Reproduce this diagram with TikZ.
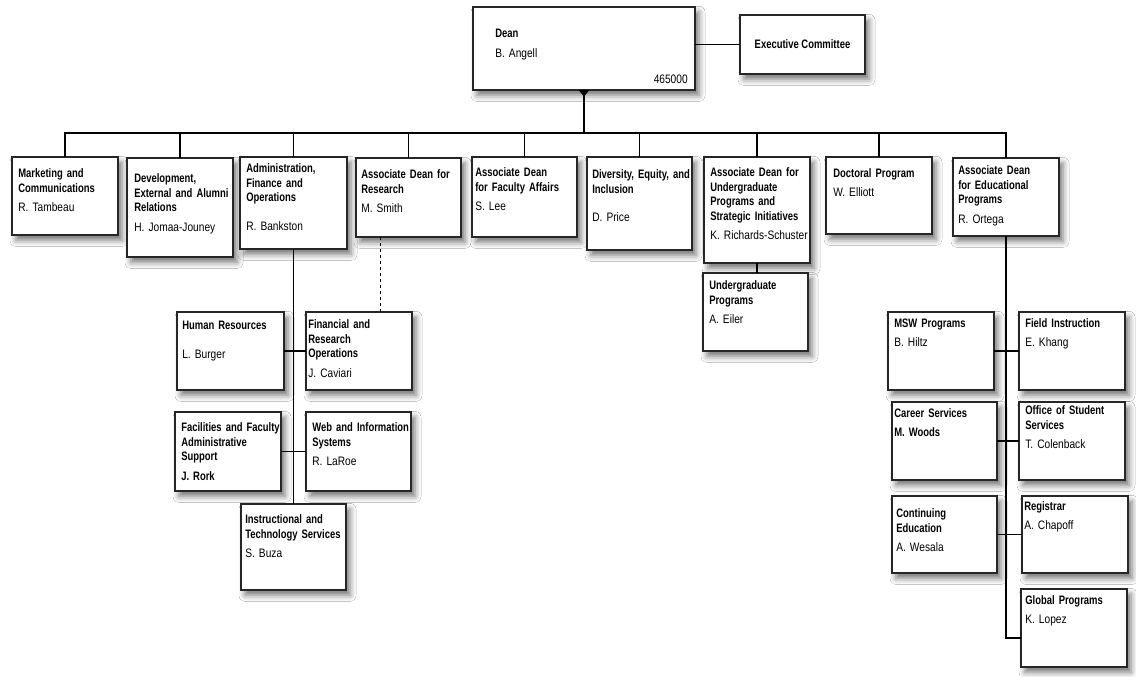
\documentclass[tikz,border=0pt]{standalone}
\usepackage{fontspec}
\setmainfont{Liberation Sans}[FakeStretch=0.83, BoldFeatures={FakeStretch=0.77}]
\usetikzlibrary{fit,shadows.blur}

\tikzset{
  unit/.style={draw=black!85, line width=0.8pt, fill=white, inner sep=0pt, outer sep=0pt,
    blur shadow={shadow xshift=3pt, shadow yshift=-4pt, shadow blur radius=4.5pt, shadow opacity=55}},
  unittext/.style={anchor=north west, align=left, inner sep=0pt, text width=84pt,
    font=\fontsize{9.2}{11}\selectfont\bfseries, execute at begin node=\rule{0pt}{7pt}},
  numtext/.style={anchor=east, inner sep=0pt, font=\fontsize{9.2}{11}\selectfont},
  link/.style={line width=1pt},
  dotlink/.style={line width=0.8pt, dash pattern=on 2.5pt off 2pt}
}

\begin{document}
\begin{tikzpicture}[x=0.75pt, y=-0.75pt]
\useasboundingbox[fill=white] (0,0) rectangle (1136,676);

% top level
\node[unit, fit={(473,7) (695,90)}] (dean) {};
\node[unittext] (dean-t) at (495,28) {Dean\\[4pt]\mdseries B. Angell};
\node[numtext] (dean-n) at (688,79) {465000};
\node[unit, fit={(740,15) (865,74)}] (exec) {};
\node[font=\fontsize{9.2}{11}\selectfont\bfseries, inner sep=0pt] (exec-t) at (exec.center) {Executive Committee};

% first row
\node[unit, fit={(12,157) (118,235)}] (mkt) {};
\node[unittext] (mkt-t) at (18,168) {Marketing and\\Communications\\[3.5pt]\mdseries R. Tambeau};
\node[unit, fit={(127,158) (233,257)}] (dev) {};
\node[unittext] (dev-t) at (134,173) {Development,\\External and Alumni\\Relations\\[3.5pt]\mdseries H. Jomaa-Jouney};
\node[unit, fit={(240,157) (347,249)}] (adm) {};
\node[unittext] (adm-t) at (246,163) {Administration,\\Finance and\\Operations\\[10.5pt]\mdseries R. Bankston};
\node[unit, fit={(356,158) (461,237)}] (res) {};
\node[unittext] (res-t) at (361,169) {Associate Dean for\\Research\\[3.5pt]\mdseries M. Smith};
\node[unit, fit={(472,157) (577,237)}] (fac) {};
\node[unittext] (fac-t) at (475,167) {Associate Dean\\for Faculty Affairs\\[3.5pt]\mdseries S. Lee};
\node[unit, fit={(587,157) (692,250)}] (div) {};
\node[unittext] (div-t) at (592,169) {Diversity, Equity, and\\Inclusion\\[10.5pt]\mdseries D. Price};
\node[unit, fit={(704,157) (810,263)}] (ugr) {};
\node[unittext] (ugr-t) at (710,167) {Associate Dean for\\Undergraduate\\Programs and\\Strategic Initiatives\\[3.5pt]\mdseries K. Richards-Schuster};
\node[unit, fit={(826,157) (932,234)}] (doc) {};
\node[unittext] (doc-t) at (833,168) {Doctoral Program\\[3.5pt]\mdseries W. Elliott};
\node[unit, fit={(953,158) (1059,236)}] (edu) {};
\node[unittext] (edu-t) at (958,165) {Associate Dean\\for Educational\\Programs\\[3.5pt]\mdseries R. Ortega};

% administration
\node[unit, fit={(177,312) (284,390)}] (hr) {};
\node[unittext] (hr-t) at (182,320) {Human Resources\\[10.5pt]\mdseries L. Burger};
\node[unit, fit={(306,312) (412,390)}] (fin) {};
\node[unittext] (fin-t) at (308,319) {Financial and\\Research\\Operations\\[3.5pt]\mdseries J. Caviari};
\node[unit, fit={(175,412) (281,491)}] (fcl) {};
\node[unittext] (fcl-t) at (181,422) {Facilities and Faculty\\Administrative\\Support\\[3.5pt]J. Rork};
\node[unit, fit={(306,412) (411,491)}] (web) {};
\node[unittext] (web-t) at (312,422) {Web and Information\\Systems\\[3.5pt]\mdseries R. LaRoe};
\node[unit, fit={(241,504) (346,590)}] (its) {};
\node[unittext] (its-t) at (245,514) {Instructional and\\Technology Services\\[3.5pt]\mdseries S. Buza};

% undergraduate
\node[unit, fit={(703,273) (808,351)}] (ugp) {};
\node[unittext] (ugp-t) at (709,280) {Undergraduate\\Programs\\[3.5pt]\mdseries A. Eiler};

% educational programs
\node[unit, fit={(888,312) (994,390)}] (msw) {};
\node[unittext] (msw-t) at (894,318) {MSW Programs\\[3.5pt]\mdseries B. Hiltz};
\node[unit, fit={(1019,312) (1125,390)}] (fld) {};
\node[unittext] (fld-t) at (1025,318) {Field Instruction\\[3.5pt]\mdseries E. Khang};
\node[unit, fit={(892,402) (997,480)}] (car) {};
\node[unittext] (car-t) at (894,408) {Career Services\\[3.5pt]M. Woods};
\node[unit, fit={(1019,402) (1125,480)}] (oss) {};
\node[unittext] (oss-t) at (1025,405) {Office of Student\\Services\\[3.5pt]\mdseries T. Colenback};
\node[unit, fit={(892,496) (997,573)}] (ced) {};
\node[unittext] (ced-t) at (896,508) {Continuing\\Education\\[3.5pt]\mdseries A. Wesala};
\node[unit, fit={(1022,496) (1128,573)}] (reg) {};
\node[unittext] (reg-t) at (1024,501) {Registrar\\[3.5pt]\mdseries A. Chapoff};
\node[unit, fit={(1021,589) (1127,667)}] (glob) {};
\node[unittext] (glob-t) at (1025,595) {Global Programs\\[3.5pt]\mdseries K. Lopez};

% connectors
\draw[link] (exec.west) -- (exec.west -| dean.east);
\draw[link] (dean.south) -- ++(0,43) coordinate (bus);
\fill ([xshift=-4pt]dean.south) -- ([xshift=4pt]dean.south) -- ([yshift=-5pt]dean.south) -- cycle;
\foreach \u in {mkt,dev,adm,res,fac,div,ugr,doc,edu}
  \draw[link] (\u.north) |- (bus);

\draw[link] (adm.south) -- (adm.south |- its.north);
\draw[link] (hr) -- (fin);
\draw[link] (fcl) -- (web);
\draw[dotlink] ([xshift=-21pt]res.south) -- ([xshift=-21pt]res.south |- fin.north);

\draw[link] (ugr.south) -- (ugr.south |- ugp.north);

\coordinate (glob-in) at ([yshift=-7.5pt]glob.west);
\draw[link] (edu.south) |- (glob-in);
\draw[link] (msw) -- (fld);
\draw[link] (car) -- (oss);
\draw[link] (ced) -- (reg);
\end{tikzpicture}
\end{document}
